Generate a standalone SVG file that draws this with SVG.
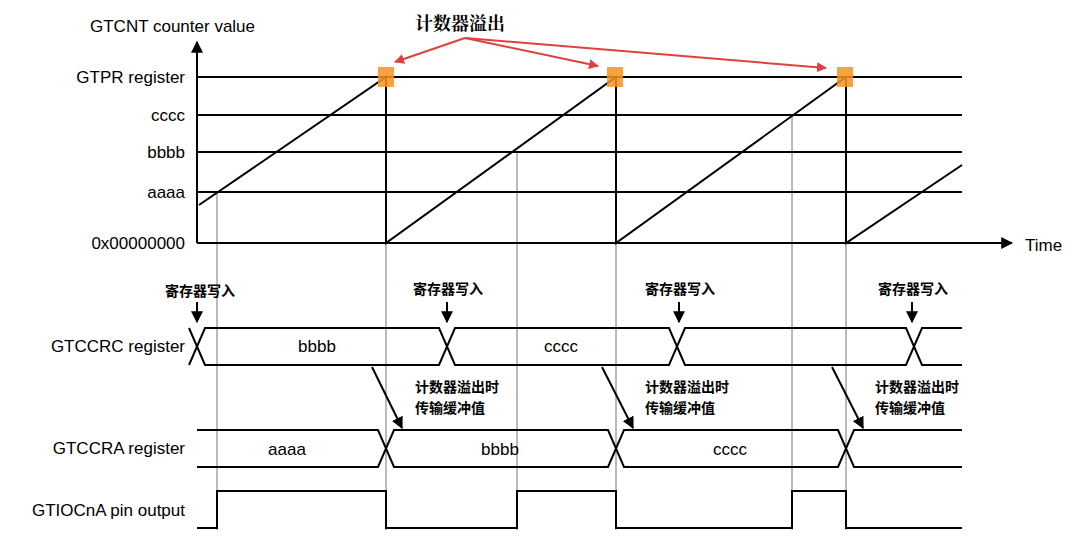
<svg xmlns="http://www.w3.org/2000/svg" width="1080" height="555" viewBox="0 0 1080 555">
<style>
.t{font-family:"Liberation Sans",Arial,sans-serif;font-size:17px;fill:#000}
.c{font-family:"Noto Sans CJK SC",sans-serif;font-size:14px;font-weight:bold;fill:#000}
.k{stroke:#000;stroke-width:2;fill:none}
.g{stroke:#777;stroke-width:1;fill:none}
.r{stroke:#e04040;stroke-width:2;fill:none}
</style>
<defs>
<marker id="ab" viewBox="0 0 10 10" refX="9" refY="5" markerWidth="6" markerHeight="6" orient="auto"><path d="M0,0L10,5L0,10z" fill="#000"/></marker>
<marker id="ar" viewBox="0 0 10 10" refX="9" refY="5" markerWidth="5" markerHeight="5" orient="auto"><path d="M0,0L10,5L0,10z" fill="#e04040"/></marker>
</defs>
<rect width="1080" height="555" fill="#fff"/>
<g id="labels">
<text class="t" x="90" y="32">GTCNT counter value</text>
<text class="t" x="185" y="83" text-anchor="end">GTPR register</text>
<text class="t" x="185" y="121" text-anchor="end">cccc</text>
<text class="t" x="185" y="158" text-anchor="end">bbbb</text>
<text class="t" x="185" y="198" text-anchor="end">aaaa</text>
<text class="t" x="185" y="249" text-anchor="end">0x00000000</text>
<text class="t" x="1025" y="251">Time</text>
<text class="t" x="185" y="352" text-anchor="end">GTCCRC register</text>
<text class="t" x="185" y="454" text-anchor="end">GTCCRA register</text>
<text class="t" x="185" y="516" text-anchor="end">GTIOCnA pin output</text>
<text x="415" y="30" style="font-family:'Noto Serif CJK SC','Noto Sans CJK SC',serif;font-size:18px;font-weight:bold">计数器溢出</text>
</g>
<g id="grid">
<path class="g" d="M217,192V530M386,243V530M517,152V530M616,243V530M792,115V530M846,243V530"/>
<path class="k" d="M197,77H962M197,115H962M197,152H962M197,192H962"/>
<path class="k" d="M197,243H1012" marker-end="url(#ab)"/>
<path class="k" d="M197,243V42" marker-end="url(#ab)"/>
</g>
<g id="counter">
<path class="k" d="M199,205L386,77V243L616,77V243L846,77V243L962,165"/>
<rect x="378" y="67" width="16" height="20" fill="#f7931e" opacity="0.85"/>
<rect x="607" y="67" width="16" height="20" fill="#f7931e" opacity="0.85"/>
<rect x="837" y="67" width="16" height="20" fill="#f7931e" opacity="0.85"/>
</g>
<g id="overflow-arrows">
<path class="r" d="M465,38L395,62" marker-end="url(#ar)"/>
<path class="r" d="M465,38L598,66" marker-end="url(#ar)"/>
<path class="r" d="M465,38L826,68" marker-end="url(#ar)"/>
</g>
<g id="gtccrc">
<path class="k" d="M189,328L205,365H439L455,328H669L685,365H906L922,328H962M189,365L205,328H439L455,365H669L685,328H906L922,365H962"/>
<text class="t" x="317" y="352" text-anchor="middle">bbbb</text>
<text class="t" x="561" y="352" text-anchor="middle">cccc</text>
</g>
<g id="writes">
<text class="c" x="165" y="296">寄存器写入</text>
<text class="c" x="413" y="294">寄存器写入</text>
<text class="c" x="645" y="294">寄存器写入</text>
<text class="c" x="878" y="294">寄存器写入</text>
<path class="k" d="M197,302V322" marker-end="url(#ab)"/>
<path class="k" d="M447,302V322" marker-end="url(#ab)"/>
<path class="k" d="M679,302V322" marker-end="url(#ab)"/>
<path class="k" d="M912,302V322" marker-end="url(#ab)"/>
</g>
<g id="gtccra">
<path class="k" d="M197,430H378L394,467H608L624,430H838L854,467H962M197,467H378L394,430H608L624,467H838L854,430H962"/>
<text class="t" x="287" y="455" text-anchor="middle">aaaa</text>
<text class="t" x="500" y="455" text-anchor="middle">bbbb</text>
<text class="t" x="730" y="455" text-anchor="middle">cccc</text>
</g>
<g id="transfer">
<path class="k" d="M372,367L402,428" marker-end="url(#ab)"/>
<path class="k" d="M602,367L633,428" marker-end="url(#ab)"/>
<path class="k" d="M832,367L863,428" marker-end="url(#ab)"/>
<text class="c" x="415" y="392">计数器溢出时</text><text class="c" x="415" y="413">传输缓冲值</text>
<text class="c" x="645" y="392">计数器溢出时</text><text class="c" x="645" y="413">传输缓冲值</text>
<text class="c" x="875" y="392">计数器溢出时</text><text class="c" x="875" y="413">传输缓冲值</text>
</g>
<g id="gtiocna">
<path class="k" d="M197,528H217V491H386V528H517V491H616V528H792V491H846V528H962"/>
</g>
</svg>
